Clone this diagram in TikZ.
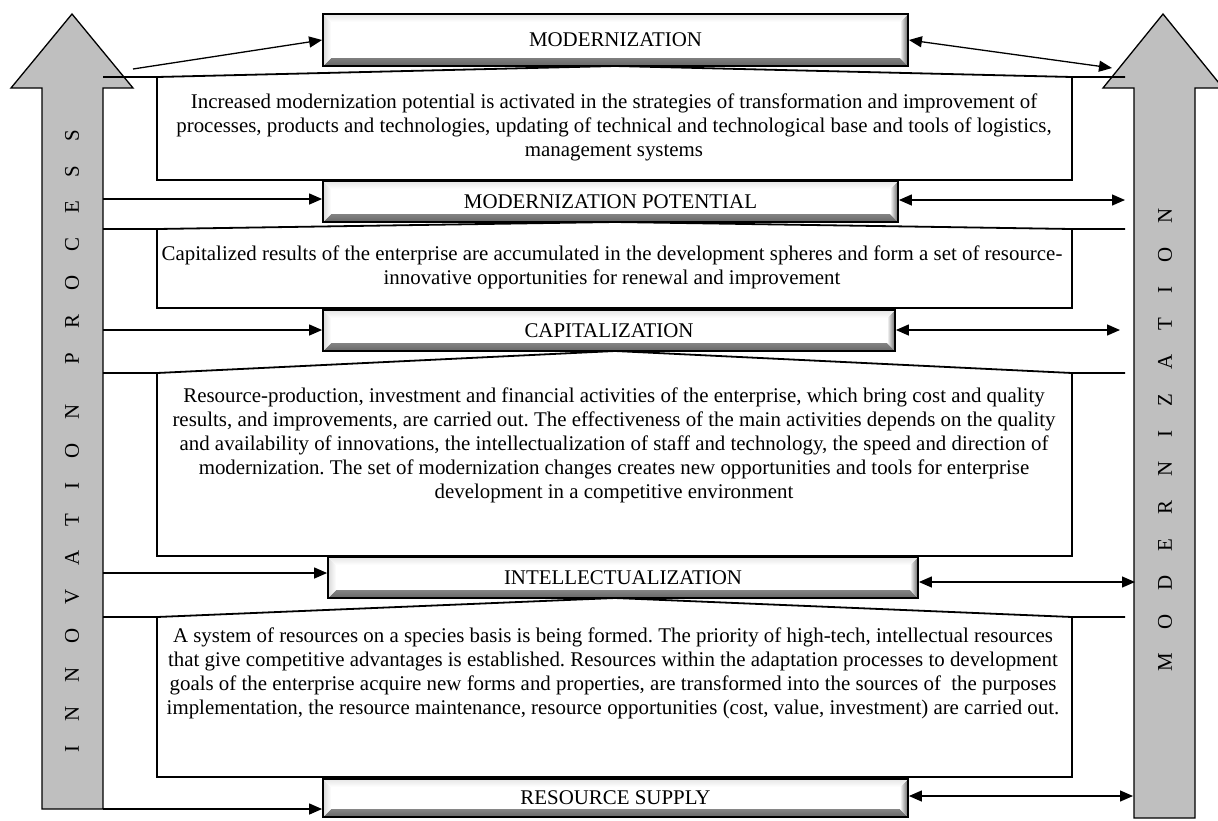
\documentclass[tikz,border=0pt]{standalone}
\usepackage{fontspec}
\setmainfont{Liberation Serif}
\usetikzlibrary{arrows.meta,calc}
\definecolor{arrowgray}{HTML}{BFBFBF}
\newcommand\ls{\hspace{24pt}}
\newcommand\ws{\hspace{40pt}}
\frenchspacing
\tikzset{
 mainfont/.style={font=\fontsize{20.9}{24}\selectfont},
 hdrbox/.style={draw=black, line width=1.8pt, fill=white, inner sep=0pt, mainfont,
  path picture={
   \shade[top color=white, bottom color=black!60]
     (path picture bounding box.south west) -- (path picture bounding box.south east)
     -- ([shift={(-8pt,8pt)}]path picture bounding box.south east)
     -- ([shift={(8pt,8pt)}]path picture bounding box.south west) -- cycle;
   \shade[left color=white, right color=black!60]
     (path picture bounding box.south east) -- (path picture bounding box.north east)
     -- ([shift={(-8pt,-8pt)}]path picture bounding box.north east)
     -- ([shift={(-8pt,8pt)}]path picture bounding box.south east) -- cycle;
   \shade[left color=black!15, right color=white]
     (path picture bounding box.south west) -- (path picture bounding box.north west)
     -- ([shift={(8pt,-8pt)}]path picture bounding box.north west)
     -- ([shift={(8pt,8pt)}]path picture bounding box.south west) -- cycle;
   \shade[top color=black!10, bottom color=white]
     (path picture bounding box.north west) -- (path picture bounding box.north east)
     -- ([shift={(-8pt,-8pt)}]path picture bounding box.north east)
     -- ([shift={(8pt,-8pt)}]path picture bounding box.north west) -- cycle;
  }},
 textblock/.style={align=center, inner sep=0pt, mainfont},
 boxline/.style={line width=1.3pt},
 roofline/.style={line width=1.8pt},
 bigarrow/.style={fill=arrowgray, draw=black, line width=1.3pt, line join=miter},
 conn/.style={line width=1.3pt, -{Triangle[length=13pt,width=11pt]}},
 dconn/.style={line width=1.3pt, {Triangle[length=13pt,width=11pt]}-{Triangle[length=13pt,width=11pt]}},
 vlabel/.style={rotate=90, anchor=west, inner sep=0pt, mainfont}
}
\begin{document}
\begin{tikzpicture}[x=1pt,y=-1pt]
\useasboundingbox (0,0) rectangle (1218,820);
% big arrows
\draw[bigarrow] (42,809) -- (42,88) -- (11,88) -- (72,14) -- (133,88) -- (103,88) -- (103,809) -- cycle;
\draw[bigarrow] (1134,818) -- (1134,88) -- (1103,88) -- (1163,14) -- (1223,88) -- (1195,88) -- (1195,818) -- cycle;
\node[vlabel] (innov) at (72,753) {I\ls N\ls N\ls O\ls V\ls A\ls T\ls I\ls O\ls N\ws P\ls R\ls O\ls C\ls E\ls S\ls S};
\node[vlabel] (modlab) at (1165,672) {M\ls O\ls D\ls E\ls R\ls N\ls I\ls Z\ls A\ls T\ls I\ls O\ls N};
% text boxes with roofs
\draw[roofline] (103,77) -- (157,77) -- (615,66) -- (1072,77) -- (1125,77);
\draw[boxline] (157,77) -- (157,180) -- (1072,180) -- (1072,77);
\draw[roofline] (103,229) -- (157,229) -- (615,222) -- (1072,229) -- (1125,229);
\draw[boxline] (157,229) -- (157,308) -- (1072,308) -- (1072,229);
\draw[roofline] (103,373) -- (157,373) -- (615,351) -- (1072,373) -- (1125,373);
\draw[boxline] (157,373) -- (157,556) -- (1072,556) -- (1072,373);
\draw[roofline] (103,617) -- (157,617) -- (615,598) -- (1072,617) -- (1125,617);
\draw[boxline] (157,617) -- (157,777) -- (1072,777) -- (1072,617);
\node[textblock] (t1) at (614,127) {Increased modernization potential is activated in the strategies of transformation and improvement of\\processes, products and technologies, updating of technical and technological base and tools of logistics,\\management systems};
\node[textblock] (t2) at (612,267) {Capitalized results of the enterprise are accumulated in the development spheres and form a set of resource-\\innovative opportunities for renewal and improvement};
\node[textblock] (t3) at (614,445) {Resource-production, investment and financial activities of the enterprise, which bring cost and quality\\results, and improvements, are carried out. The effectiveness of the main activities depends on the quality\\and availability of innovations, the intellectualization of staff and technology, the speed and direction of\\modernization. The set of modernization changes creates new opportunities and tools for enterprise\\development in a competitive environment};
\node[textblock] (t4) at (613,673) {A system of resources on a species basis is being formed. The priority of high-tech, intellectual resources\\that give competitive advantages is established. Resources within the adaptation processes to development\\goals of the enterprise acquire new forms and properties, are transformed into the sources of \ the purposes\\implementation, the resource maintenance, resource opportunities (cost, value, investment) are carried out.};
% header boxes
\node[hdrbox, minimum width=585pt, minimum height=52pt] (mod) at (615.5,40) {MODERNIZATION};
\node[hdrbox, minimum width=575pt, minimum height=41pt] (mp) at (610.5,201.5) {MODERNIZATION POTENTIAL};
\node[hdrbox, minimum width=572pt, minimum height=41pt] (cap) at (609,330.5) {CAPITALIZATION};
\node[hdrbox, minimum width=590pt, minimum height=41pt] (int) at (623,577.5) {INTELLECTUALIZATION};
\node[hdrbox, minimum width=585pt, minimum height=38pt] (rs) at (615.5,798) {RESOURCE SUPPLY};
% left connectors
\coordinate (Ltop) at (133,69);
\coordinate (Lmp) at (103,199);
\coordinate (Lcap) at (103,330);
\coordinate (Lint) at (103,573);
\coordinate (Lrs) at (103,809);
\draw[conn] (Ltop) -- (mod.west);
\draw[conn] (Lmp) -- (Lmp -| mp.west);
\draw[conn] (Lcap) -- (Lcap -| cap.west);
\draw[conn] (Lint) -- (Lint -| int.west);
\draw[conn] (Lrs) -- (Lrs -| rs.west);
% right connectors
\coordinate (Rtop) at (1112,68);
\coordinate (Rmp) at (1125,200);
\coordinate (Rcap) at (1120,330);
\coordinate (Rint) at (1135,582);
\coordinate (Rrs) at (1133,796);
\draw[dconn] (mod.east) -- (Rtop);
\draw[dconn] (Rmp -| mp.east) -- (Rmp);
\draw[dconn] (Rcap -| cap.east) -- (Rcap);
\draw[dconn] (Rint -| int.east) -- (Rint);
\draw[dconn] (Rrs -| rs.east) -- (Rrs);
\end{tikzpicture}
\end{document}
